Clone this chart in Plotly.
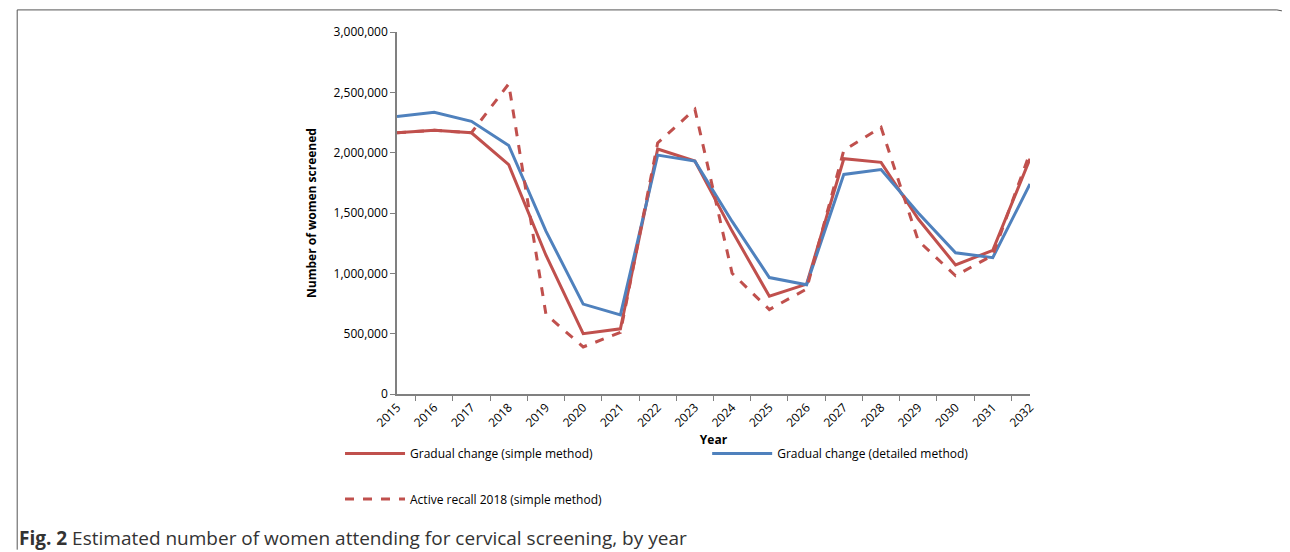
import plotly.graph_objects as go

years = [str(y) for y in range(2015, 2033)]
gradual_simple = [2165000, 2185000, 2165000, 1900000, 1150000, 500000, 540000, 2030000, 1930000,
                  1350000, 810000, 910000, 1950000, 1920000, 1450000, 1070000, 1190000, 1950000]
gradual_detailed = [2300000, 2335000, 2260000, 2060000, 1350000, 745000, 655000, 1980000, 1930000,
                    1430000, 965000, 905000, 1820000, 1860000, 1500000, 1170000, 1130000, 1740000]
active_recall = [2165000, 2185000, 2165000, 2570000, 660000, 390000, 510000, 2080000, 2360000,
                 1000000, 700000, 870000, 2020000, 2210000, 1270000, 980000, 1150000, 2000000]

red = "#C0504D"
blue = "#4F81BD"

fig = go.Figure()
fig.add_trace(go.Scatter(x=years, y=gradual_simple, mode="lines", name="Gradual change (simple method)",
                         line=dict(color=red, width=3), legend="legend"))
fig.add_trace(go.Scatter(x=years, y=gradual_detailed, mode="lines", name="Gradual change (detailed method)",
                         line=dict(color=blue, width=3), legend="legend2"))
fig.add_trace(go.Scatter(x=years, y=active_recall, mode="lines", name="Active recall 2018 (simple method)",
                         line=dict(color=red, width=3, dash="dash"), legend="legend3"))

leg_font = dict(size=12, color="black")
leg_common = dict(xanchor="left", yanchor="top", font=leg_font, itemwidth=60, bgcolor="rgba(0,0,0,0)")
fig.update_layout(
    width=1282, height=544,
    paper_bgcolor="white", plot_bgcolor="white",
    font=dict(family="Open Sans, sans-serif", size=12, color="black"),
    margin=dict(l=389, r=260, t=24, b=158),
    showlegend=True,
    legend=dict(x=-0.09, y=-0.124, **leg_common),
    legend2=dict(x=0.49, y=-0.124, **leg_common),
    legend3=dict(x=-0.09, y=-0.25, **leg_common),
    xaxis=dict(type="category", tickson="boundaries", ticks="outside", ticklen=5,
               tickcolor="#808080", showline=True, linecolor="#808080", linewidth=1.5,
               tickangle=-45, showgrid=False, tickfont=dict(size=12),
               title=dict(text="<b>Year</b>", font=dict(size=12), standoff=4)),
    yaxis=dict(range=[0, 3000000], dtick=500000, tickformat=",", ticks="outside", ticklen=5,
               tickcolor="#808080", showline=True, linecolor="#808080", linewidth=1.5,
               showgrid=False, zeroline=False, tickfont=dict(size=12),
               title=dict(text="<b>Number of women screened</b>", font=dict(size=12), standoff=14)),
)

fig.add_shape(type="path", xref="paper", yref="paper",
              path="M -0.6 -0.43 L -0.6 1.061 L 1.39 1.061 Q 1.408 1.061 1.408 1.02 L 1.408 -0.43",
              line=dict(color="#555555", width=1), layer="below")
fig.add_annotation(text="<b>Fig. 2</b> Estimated number of women attending for cervical screening, by year",
                   xref="paper", yref="paper", x=-0.6, y=-0.355, xanchor="left", yanchor="top",
                   showarrow=False, font=dict(size=19, color="#333333"))

fig.write_html("out.html")
